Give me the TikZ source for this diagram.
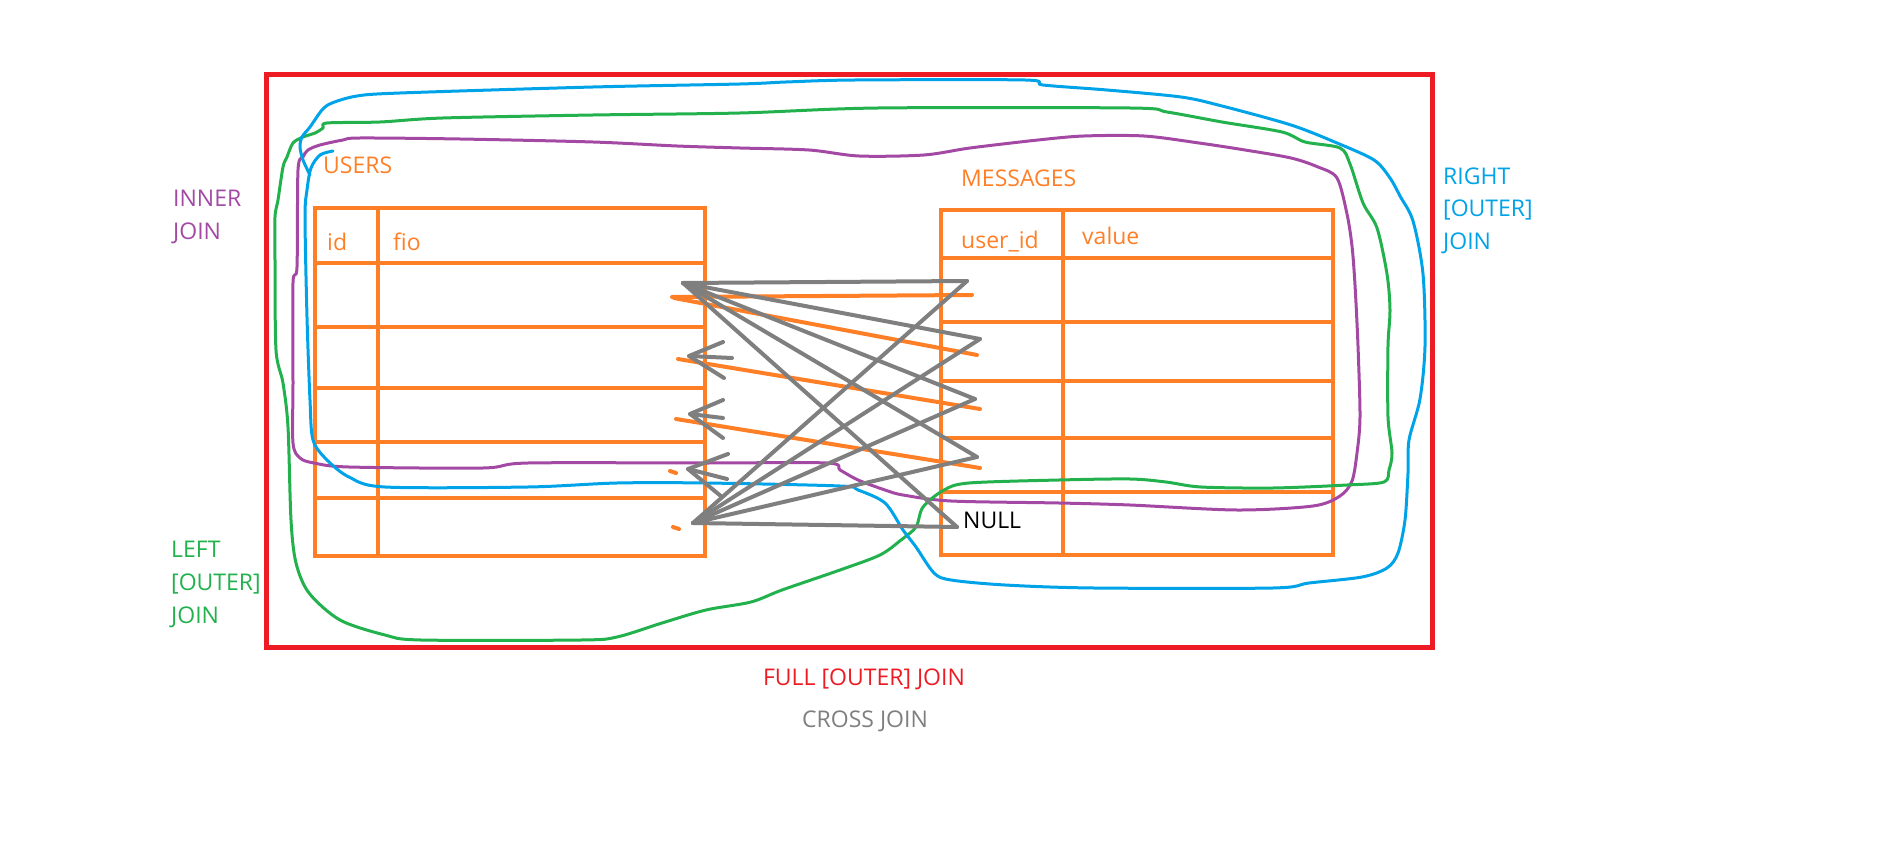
\documentclass[tikz,border=0pt]{standalone}
\usepackage{fontspec}
\setmainfont{Open Sans}
\definecolor{porange}{RGB}{255,127,39}
\definecolor{pred}{RGB}{237,28,36}
\definecolor{ppurple}{RGB}{163,73,164}
\definecolor{pgreen}{RGB}{34,177,76}
\definecolor{pblue}{RGB}{0,162,232}
\definecolor{pgray}{RGB}{127,127,127}
\begin{document}
\begin{tikzpicture}[x=1pt,y=-1pt,
  txt/.style={font=\fontsize{23}{33}\selectfont, inner sep=0pt, anchor=base west},
  tbl/.style={draw=porange, line width=4.5pt},
  outline/.style={line width=3pt, line join=round, line cap=round},
  cross/.style={draw=pgray, line width=4pt, line cap=round, line join=round},
  ostroke/.style={draw=porange, line width=4pt, line cap=round},
]
\useasboundingbox (0,0) rectangle (1904,861);

% FULL JOIN frame
\draw[pred, line width=5pt] (266,75) rectangle (1432,647);

% USERS table
\draw[tbl] (315,208) rectangle (705,556);
\foreach \y in {263,327,388,442,498} \draw[tbl] (315,\y) -- (705,\y);
\draw[tbl] (378,208) -- (378,556);
\node[txt, text=porange] (users) at (323,174) {USERS};
\node[txt, text=porange] (id) at (327,251) {id};
\node[txt, text=porange] (fio) at (393,251) {fio};

% MESSAGES table
\draw[tbl] (941,210) rectangle (1333,555);
\foreach \y in {258,322,381,438,492} \draw[tbl] (941,\y) -- (1333,\y);
\draw[tbl] (1063,210) -- (1063,555);
\node[txt, text=porange] (messages) at (961,187) {MESSAGES};
\node[txt, text=porange] (userid) at (961,248) {user\_id};
\node[txt, text=porange] (value) at (1082,245) {value};
\node[txt, text=black] (null) at (963,528) {NULL};

% orange strokes
\coordinate (o1a) at (672,297); \coordinate (o1b) at (972,295);
\coordinate (o2a) at (674,298); \coordinate (o2b) at (977,355);
\coordinate (o3a) at (678,359); \coordinate (o3b) at (980,409);
\coordinate (o4a) at (676,419); \coordinate (o4b) at (980,468);
\coordinate (d1a) at (670,471); \coordinate (d1b) at (676,473);
\coordinate (d2a) at (673,527); \coordinate (d2b) at (679,529);
\foreach \n in {o1,o2,o3,o4,d1,d2} \draw[ostroke] (\n a) -- (\n b);

% INNER JOIN (purple)
\draw[ppurple, outline] plot[smooth cycle, tension=0.5] coordinates {
(343,140) (360,138) (460,139) (593,142) (677,146) (740,148) (809,150) (859,156)
(924,155) (970,148) (1038,140) (1084,136) (1144,136) (1199,143) (1245,150)
(1291,158) (1318,167) (1337,178) (1347,214) (1352,246) (1355,285) (1358,346)
(1360,417) (1357,453) (1352,481) (1340,496) (1313,506) (1237,510) (1130,505)
(1059,503) (951,501) (903,495) (885,490) (858,480) (840,470) (827,463) (706,463)
(528,463) (483,468) (349,467) (314,463) (300,458) (293,443) (293,383) (293,283)
(297,267) (298,170) (303,157) (308,150) (320,145)};

% LEFT JOIN (green)
\draw[pgreen, outline] plot[smooth cycle, tension=0.5] coordinates {
(327,123) (380,122) (443,118) (593,115) (740,113) (878,108) (1130,108) (1167,112)
(1222,122) (1282,132) (1305,142) (1340,148) (1350,164) (1363,203) (1377,228)
(1387,274) (1390,310) (1388,346) (1388,417) (1392,453) (1389,470) (1384,482)
(1347,485) (1273,488) (1201,487) (1166,482) (1130,479) (1059,480) (969,483)
(944,490) (923,507) (916,527) (901,540) (880,555) (840,570) (782,590) (751,602)
(706,610) (662,623) (617,637) (581,640) (421,640) (385,635) (340,620) (309,593)
(296,563) (291,520) (288,427) (283,383) (276,350) (275,260) (275,217) (278,200)
(283,167) (287,157) (293,143) (303,137) (315,133) (323,128)};

% RIGHT JOIN (blue)
\draw[pblue, outline] plot[smooth, tension=0.5] coordinates {
(333,151) (320,155) (311,168) (307,190) (305,217) (307,317) (310,400) (313,440)
(327,460) (349,477) (385,487) (528,487) (617,483) (706,483) (840,486) (858,490)
(885,503) (903,530) (916,547) (934,573) (951,580) (1005,585) (1094,588) (1273,588)
(1309,583) (1362,577) (1387,568) (1398,553) (1405,520) (1408,473) (1409,440)
(1420,399) (1425,346) (1423,274) (1413,221) (1400,196) (1390,178) (1374,160)
(1337,143) (1291,125) (1222,106) (1181,97) (1107,90) (1043,85) (1025,80) (855,80)
(786,82) (740,84) (593,87) (400,93) (357,96) (332,103) (322,110) (310,127)
(302,137) (300,147) (303,160) (310,175)};

% CROSS JOIN (gray)
\coordinate (A) at (683,283);
\coordinate (B) at (693,523);
\coordinate (R1) at (967,281);
\coordinate (R2) at (980,339);
\coordinate (R3) at (975,399);
\coordinate (R4) at (977,457);
\coordinate (R5) at (957,527);
\foreach \r in {R1,R2,R3,R4,R5} {\draw[cross] (A) -- (\r); \draw[cross] (B) -- (\r);}
% small arrow heads
\coordinate (t1) at (689,356); \coordinate (u1) at (723,342); \coordinate (l1) at (724,378); \coordinate (s1) at (732,358);
\coordinate (t2) at (690,414); \coordinate (u2) at (723,400); \coordinate (l2) at (723,438); \coordinate (s2) at (723,418);
\coordinate (t3) at (688,469); \coordinate (u3) at (728,454); \coordinate (l3) at (722,497); \coordinate (s3) at (727,479);
\foreach \i in {1,2,3} {\draw[cross] (u\i) -- (t\i) -- (l\i); \draw[cross] (t\i) -- (s\i);}

% labels
\node[txt, text=ppurple, align=left] (inner) at (173,240) {INNER\\JOIN};
\node[txt, text=pgreen, align=left] (left) at (171,623) {LEFT\\{[OUTER]}\\JOIN};
\node[txt, text=pblue, align=left] (right) at (1443,250) {RIGHT\\{[OUTER]}\\JOIN};
\node[txt, text=pred, anchor=base] (full) at (864,685) {FULL [OUTER] JOIN};
\node[txt, text=pgray, anchor=base] (crossj) at (865,727) {CROSS JOIN};
\end{tikzpicture}
\end{document}
